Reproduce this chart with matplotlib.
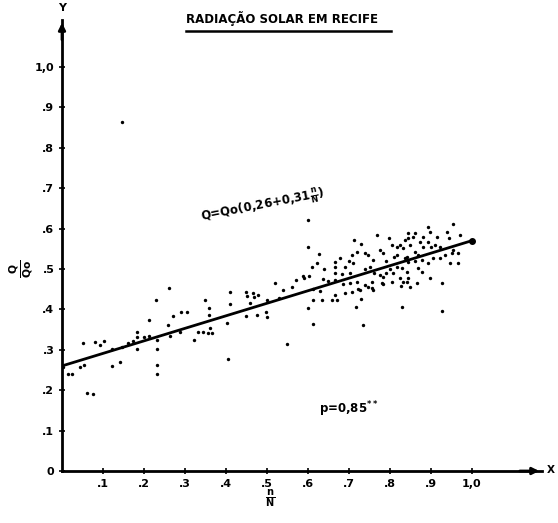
import numpy as np
import matplotlib
matplotlib.use("Agg")
from matplotlib import pyplot as plt

# values (n/N , Q/Qo)
insol = [0.003, 0.015, 0.024, 0.044, 0.054, 0.051, 0.061, 0.076, 0.080, 0.093,
         0.102, 0.122, 0.122, 0.141, 0.146, 0.161, 0.173, 0.183, 0.183, 0.183,
         0.200, 0.212, 0.212, 0.229, 0.232, 0.232, 0.232, 0.232, 0.261, 0.259,
         0.263, 0.271, 0.288, 0.290, 0.305, 0.322, 0.332, 0.344, 0.349, 0.359,
         0.359, 0.361, 0.356, 0.366, 0.402, 0.405, 0.410, 0.410, 0.449, 0.452,
         0.449, 0.459, 0.466, 0.468, 0.478, 0.476, 0.500, 0.498, 0.500, 0.520,
         0.529, 0.539, 0.549, 0.560, 0.571, 0.588, 0.590, 0.600, 0.602, 0.600,
         0.600, 0.610, 0.612, 0.612, 0.612, 0.622, 0.627, 0.629, 0.634, 0.637,
         0.659, 0.666, 0.666, 0.666, 0.666, 0.666, 0.670, 0.678, 0.683, 0.685,
         0.690, 0.702, 0.702, 0.707, 0.707, 0.710, 0.712, 0.717, 0.720, 0.720,
         0.722, 0.727, 0.729, 0.729, 0.734, 0.739, 0.746, 0.746, 0.751, 0.756,
         0.756, 0.759, 0.759, 0.768, 0.776, 0.776, 0.780, 0.783, 0.783, 0.783,
         0.798, 0.805, 0.805, 0.807, 0.817, 0.817, 0.817, 0.824, 0.824, 0.827,
         0.829, 0.829, 0.832, 0.832, 0.837, 0.837, 0.841, 0.841, 0.841, 0.844,
         0.844, 0.844, 0.844, 0.849, 0.849, 0.856, 0.861, 0.861, 0.866, 0.868,
         0.868, 0.873, 0.878, 0.878, 0.880, 0.893, 0.893, 0.893, 0.898, 0.898,
         0.900, 0.905, 0.915, 0.922, 0.922, 0.927, 0.927, 0.934, 0.939, 0.944,
         0.946, 0.951, 0.954, 0.954, 0.966, 0.966, 0.971, 0.146,
         0.690, 0.740, 0.790, 0.800, 0.810, 0.760, 0.700, 0.860, 0.880, 0.910,
         0.740, 0.650, 0.640, 0.790]
rad = [0.257, 0.240, 0.240, 0.257, 0.262, 0.317, 0.193, 0.190, 0.320, 0.312,
       0.322, 0.260, 0.302, 0.270, 0.307, 0.317, 0.322, 0.344, 0.332, 0.302,
       0.332, 0.374, 0.334, 0.423, 0.324, 0.302, 0.262, 0.240, 0.453, 0.361,
       0.334, 0.384, 0.344, 0.393, 0.393, 0.324, 0.344, 0.344, 0.423, 0.403,
       0.386, 0.354, 0.342, 0.342, 0.366, 0.277, 0.443, 0.413, 0.443, 0.433,
       0.384, 0.415, 0.440, 0.430, 0.436, 0.386, 0.423, 0.393, 0.381, 0.465,
       0.428, 0.448, 0.314, 0.455, 0.473, 0.483, 0.478, 0.554, 0.483, 0.621,
       0.403, 0.505, 0.423, 0.364, 0.450, 0.515, 0.537, 0.446, 0.423, 0.475,
       0.423, 0.436, 0.517, 0.505, 0.490, 0.473, 0.423, 0.527, 0.488, 0.463,
       0.505, 0.490, 0.465, 0.535, 0.443, 0.515, 0.572, 0.406, 0.542, 0.468,
       0.450, 0.448, 0.562, 0.426, 0.361, 0.460, 0.535, 0.455, 0.505, 0.468,
       0.453, 0.522, 0.448, 0.584, 0.547, 0.485, 0.465, 0.540, 0.480, 0.463,
       0.577, 0.559, 0.468, 0.490, 0.554, 0.535, 0.505, 0.559, 0.478, 0.458,
       0.502, 0.406, 0.552, 0.468, 0.572, 0.527, 0.530, 0.493, 0.468, 0.577,
       0.589, 0.517, 0.478, 0.559, 0.455, 0.579, 0.589, 0.542, 0.465, 0.535,
       0.502, 0.567, 0.522, 0.493, 0.554, 0.604, 0.567, 0.515, 0.592, 0.478,
       0.554, 0.527, 0.579, 0.554, 0.527, 0.465, 0.396, 0.535, 0.592, 0.577,
       0.515, 0.540, 0.611, 0.547, 0.540, 0.515, 0.584, 0.864,
       0.440, 0.500, 0.520, 0.500, 0.530, 0.490, 0.520, 0.520, 0.580, 0.560,
       0.540, 0.470, 0.500, 0.490]

# regression Q = Qo(0,26 + 0,31 n/N)
a, b = 0.26, 0.31

xticks = [0.1, 0.2, 0.3, 0.4, 0.5, 0.6, 0.7, 0.8, 0.9, 1.0]
xlabels = [".1", ".2", ".3", ".4", ".5", ".6", ".7", ".8", ".9", "1,0"]
yticks = [0, 0.1, 0.2, 0.3, 0.4, 0.5, 0.6, 0.7, 0.8, 0.9, 1.0]
ylabels = ["0", ".1", ".2", ".3", ".4", ".5", ".6", ".7", ".8", ".9", "1,0"]

plt.rcParams['font.family'] = ['DejaVu Sans']
plt.rcParams['font.weight'] = 'bold'

fig = plt.figure(figsize=(5.58, 5.23), dpi=100)
ax = fig.add_axes([62 / 558, 52 / 523, 480 / 558, 451 / 523])
ax.set_xlim(0, 1.171)
ax.set_ylim(0, 1.116)

for s in ['top', 'right']:
    ax.spines[s].set_visible(False)
ax.spines['left'].set_linewidth(2)
ax.spines['bottom'].set_linewidth(2)

# arrow heads on the axes
ax.annotate("", xy=(1.171, 0), xytext=(1.11, 0),
            arrowprops=dict(arrowstyle="-|>", color="k", lw=2, mutation_scale=10),
            annotation_clip=False)
ax.annotate("", xy=(0, 1.116), xytext=(0, 1.06),
            arrowprops=dict(arrowstyle="-|>", color="k", lw=2, mutation_scale=10),
            annotation_clip=False)
ax.text(1.192, 0.003, "X", fontsize=7.5, fontweight='bold', va='center', ha='center', clip_on=False)
ax.text(0, 1.145, "Y", fontsize=8, fontweight='bold', va='center', ha='center', clip_on=False)

ax.set_xticks(xticks)
ax.set_xticklabels(xlabels)
ax.set_yticks(yticks)
ax.set_yticklabels(ylabels)
ax.tick_params(direction='inout', length=5, width=1.2, labelsize=8, pad=3)
for t in ax.get_xticklabels() + ax.get_yticklabels():
    t.set_fontweight('bold')

ax.scatter(insol, rad, s=6, c='k', marker='o', linewidths=0, zorder=3)

xl = np.array([0.0, 1.0])
ax.plot(xl, a + b * xl, color='k', lw=2, solid_capstyle='round')
ax.plot([1.0], [a + b], 'ko', ms=4)

# texts
fig.text(282 / 558, 1 - 19 / 523, "RADIAÇÃO SOLAR EM RECIFE", fontsize=8.5,
         fontweight='bold', ha='center', va='center')
fig.add_artist(plt.Line2D([186 / 558, 391 / 558], [1 - 31 / 523, 1 - 31 / 523],
                          color='k', lw=1.8))

ax.text(0.49, 0.655, r"Q=Qo(0,26+0,31$\mathbf{\frac{n}{N}}$)", fontsize=8.5,
        fontweight='bold', rotation=11, ha='center', va='center')
ax.text(0.70, 0.152, r"p=0,85$^{\mathbf{**}}$", fontsize=8.5, fontweight='bold',
        ha='center', va='center')

ax.text(-0.098, 0.5, r"$\mathbf{\frac{Q}{Qo}}$", fontsize=11, rotation=90,
        ha='center', va='center', clip_on=False)
ax.text(0.507, -0.068, r"$\mathbf{\frac{n}{N}}$", fontsize=10,
        ha='center', va='center', clip_on=False)

fig.savefig("out.png", dpi=100)
